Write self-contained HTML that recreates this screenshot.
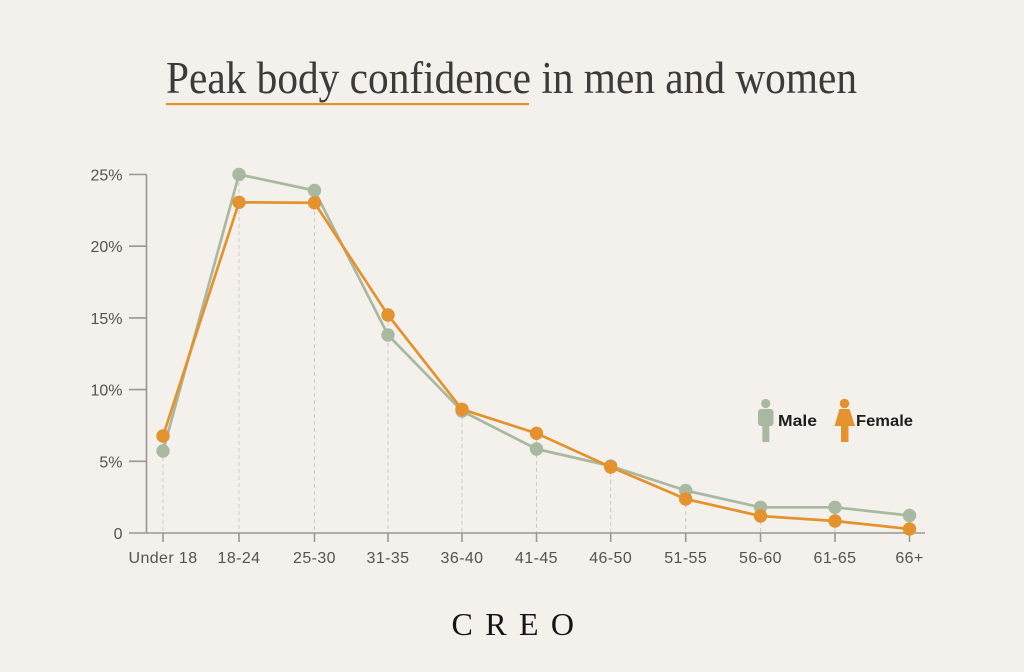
<!DOCTYPE html>
<html><head><meta charset="utf-8"><style>
html,body{margin:0;padding:0;background:#f4f1ec;}
svg{display:block;}
</style></head><body>
<svg width="1024" height="672" viewBox="0 0 1024 672" xmlns="http://www.w3.org/2000/svg">
<rect width="1024" height="672" fill="#f4f1ec"/>
<text x="166" y="93" font-family="'Liberation Serif', serif" font-size="45" fill="#3d3b3a" textLength="691" lengthAdjust="spacingAndGlyphs">Peak body confidence in men and women</text>
<rect x="166" y="103" width="363" height="2.2" fill="#e3922e"/>

<g stroke="#cfcac3" stroke-width="1" stroke-dasharray="4,3" fill="none">
<line x1="163" y1="436" x2="163" y2="533"/>
<line x1="239" y1="175" x2="239" y2="533"/>
<line x1="314.5" y1="190" x2="314.5" y2="533"/>
<line x1="388" y1="315" x2="388" y2="533"/>
<line x1="462" y1="409" x2="462" y2="533"/>
<line x1="536.5" y1="433" x2="536.5" y2="533"/>
<line x1="610.7" y1="466" x2="610.7" y2="533"/>
<line x1="685.7" y1="490" x2="685.7" y2="533"/>
<line x1="760.5" y1="507" x2="760.5" y2="533"/>
<line x1="835" y1="507" x2="835" y2="533"/>
<line x1="909.5" y1="515" x2="909.5" y2="533"/>
</g>

<g stroke="#9a9793" stroke-width="1.6" fill="none">
<line x1="146.5" y1="174.5" x2="146.5" y2="533"/>
<line x1="129" y1="533" x2="925" y2="533"/>
<line x1="129" y1="174.5" x2="146.5" y2="174.5"/>
<line x1="129" y1="246.2" x2="146.5" y2="246.2"/>
<line x1="129" y1="317.9" x2="146.5" y2="317.9"/>
<line x1="129" y1="389.6" x2="146.5" y2="389.6"/>
<line x1="129" y1="461.3" x2="146.5" y2="461.3"/>
<line x1="163" y1="533" x2="163" y2="542"/>
<line x1="239" y1="533" x2="239" y2="542"/>
<line x1="314.5" y1="533" x2="314.5" y2="542"/>
<line x1="388" y1="533" x2="388" y2="542"/>
<line x1="462" y1="533" x2="462" y2="542"/>
<line x1="536.5" y1="533" x2="536.5" y2="542"/>
<line x1="610.7" y1="533" x2="610.7" y2="542"/>
<line x1="685.7" y1="533" x2="685.7" y2="542"/>
<line x1="760.5" y1="533" x2="760.5" y2="542"/>
<line x1="835" y1="533" x2="835" y2="542"/>
<line x1="909.5" y1="533" x2="909.5" y2="542"/>
</g>

<g font-family="'Liberation Sans', sans-serif" font-size="16" fill="#555250" text-anchor="end">
<text x="122.5" y="180.5">25%</text>
<text x="122.5" y="252.2">20%</text>
<text x="122.5" y="323.9">15%</text>
<text x="122.5" y="395.6">10%</text>
<text x="122.5" y="467.3">5%</text>
<text x="122.5" y="539">0</text>
</g>
<g font-family="'Liberation Sans', sans-serif" font-size="16" fill="#555250" text-anchor="middle" letter-spacing="0.4">
<text x="163" y="563">Under 18</text>
<text x="239" y="563">18-24</text>
<text x="314.5" y="563">25-30</text>
<text x="388" y="563">31-35</text>
<text x="462" y="563">36-40</text>
<text x="536.5" y="563">41-45</text>
<text x="610.7" y="563">46-50</text>
<text x="685.7" y="563">51-55</text>
<text x="760.5" y="563">56-60</text>
<text x="835" y="563">61-65</text>
<text x="909.5" y="563">66+</text>
</g>

<polyline fill="none" stroke="#a8b8a1" stroke-width="2.7" stroke-linejoin="round" points="163,451 239,174.5 314.5,190.5 388,335 462,411 536.5,449 610.7,466 685.7,490.5 760.5,507.3 835,507.3 909.5,515.5"/>
<g fill="#a8b8a1">
<circle cx="163" cy="451" r="6.7"/>
<circle cx="239" cy="174.5" r="6.7"/>
<circle cx="314.5" cy="190.5" r="6.7"/>
<circle cx="388" cy="335" r="6.7"/>
<circle cx="462" cy="411" r="6.7"/>
<circle cx="536.5" cy="449" r="6.7"/>
<circle cx="610.7" cy="466" r="6.7"/>
<circle cx="685.7" cy="490.5" r="6.7"/>
<circle cx="760.5" cy="507.3" r="6.7"/>
<circle cx="835" cy="507.3" r="6.7"/>
<circle cx="909.5" cy="515.5" r="6.7"/>
</g>
<polyline fill="none" stroke="#e3922e" stroke-width="2.7" stroke-linejoin="round" points="163,436 239,202.3 314.5,202.8 388,315 462,409.3 536.5,433.3 610.7,467 685.7,499 760.5,516 835,521 909.5,529"/>
<g fill="#e3922e">
<circle cx="163" cy="436" r="6.7"/>
<circle cx="239" cy="202.3" r="6.7"/>
<circle cx="314.5" cy="202.8" r="6.7"/>
<circle cx="388" cy="315" r="6.7"/>
<circle cx="462" cy="409.3" r="6.7"/>
<circle cx="536.5" cy="433.3" r="6.7"/>
<circle cx="610.7" cy="467" r="6.7"/>
<circle cx="685.7" cy="499" r="6.7"/>
<circle cx="760.5" cy="516" r="6.7"/>
<circle cx="835" cy="521" r="6.7"/>
<circle cx="909.5" cy="529" r="6.7"/>
</g>

<!-- legend -->
<g fill="#a8b8a1">
<circle cx="765.7" cy="403.5" r="4.6"/>
<rect x="758" y="409" width="15.5" height="17" rx="3"/>
<rect x="762.3" y="424" width="7" height="18"/>
</g>
<g fill="#e3922e">
<circle cx="844.5" cy="403.5" r="4.8"/>
<path d="M839.5,409 L849.5,409 L855,426 L834.5,426 Z"/>
<rect x="841" y="424" width="7.5" height="18"/>
</g>
<g font-family="'Liberation Sans', sans-serif" font-size="16" font-weight="bold" fill="#1e1e1e">
<text x="778" y="426" textLength="39" lengthAdjust="spacingAndGlyphs">Male</text>
<text x="856" y="426" textLength="57" lengthAdjust="spacingAndGlyphs">Female</text>
</g>

<text x="451.5" y="635" font-family="'Liberation Serif', serif" font-size="32" fill="#141414" textLength="122.5" lengthAdjust="spacing">CREO</text>
</svg>
</body></html>
